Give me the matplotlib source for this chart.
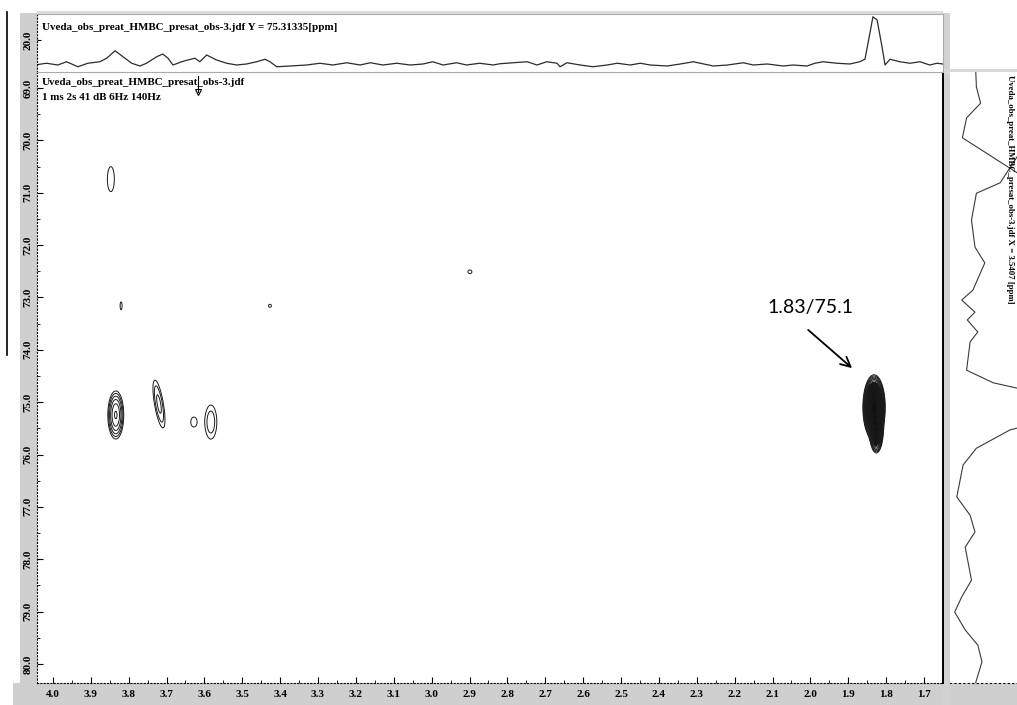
import numpy as np
import matplotlib.pyplot as plt
from matplotlib.patches import Rectangle
from matplotlib.lines import Line2D
from matplotlib.ticker import MultipleLocator

# 1H slice through 75.31 ppm (top trace)
top_ppm = [4.048, 4.017, 3.987, 3.964, 3.934, 3.908, 3.876, 3.858, 3.836, 3.815,
           3.792, 3.770, 3.753, 3.726, 3.710, 3.696, 3.683, 3.660, 3.644, 3.625,
           3.612, 3.594, 3.568, 3.541, 3.515, 3.489, 3.462, 3.440, 3.427, 3.409,
           3.374, 3.330, 3.295, 3.261, 3.224, 3.189, 3.162, 3.129, 3.092, 3.057,
           3.023, 2.997, 2.970, 2.934, 2.908, 2.873, 2.838, 2.820, 2.785, 2.748,
           2.722, 2.696, 2.669, 2.661, 2.643, 2.608, 2.574, 2.537, 2.510, 2.476,
           2.449, 2.423, 2.378, 2.344, 2.309, 2.291, 2.256, 2.219, 2.177, 2.151,
           2.114, 2.072, 2.046, 2.009, 1.988, 1.967, 1.930, 1.896, 1.870, 1.856,
           1.843, 1.835, 1.824, 1.811, 1.803, 1.790, 1.764, 1.737, 1.711, 1.685,
           1.666, 1.650]
top_int = [0.0, 1.4, 0.0, 2.6, -1.4, 1.4, 2.6, 5.4, 11.4, 6.6,
           1.4, -0.8, 1.4, 6.6, 8.8, 5.4, 0.0, 2.6, 4.0, 5.4,
           2.6, 8.0, 4.0, 1.4, 0.0, 0.8, 2.6, 4.6, 2.6, -1.4,
           -0.8, 0.0, 1.4, 0.0, 1.8, 0.0, 1.8, 0.0, 1.4, 0.0,
           0.8, 2.6, 0.0, 1.8, 0.0, 1.4, 0.0, 1.0, 1.8, 2.6,
           0.0, 2.6, 1.4, -1.4, 1.8, 0.0, -1.4, 0.0, 1.4, 0.0,
           1.4, 0.0, -0.8, 0.8, 2.6, 1.4, -0.8, 0.0, 1.8, 0.0,
           0.8, -0.8, 0.0, -0.8, 1.4, 2.6, 1.4, 0.8, 2.6, 4.6,
           25.4, 38.6, 36.0, 14.6, 0.0, 4.6, 2.6, 1.4, 2.6, 0.0,
           1.4, 0.8]

# 13C slice through 3.54 ppm (right trace), clipped peaks run off the panel
side_ppm = [68.65, 68.98, 69.29, 69.57, 69.95, 71.14, 69.06, 70.81, 71.01, 71.52,
            72.04, 72.34, 72.86, 73.05, 73.28, 73.43, 73.66, 73.85, 74.39, 74.63,
            75.09, 75.53, 75.88, 76.20, 76.81, 77.16, 77.48, 77.77, 78.40, 78.72,
            79.01, 79.35, 79.64, 79.96, 80.40]
side_int = [41, 42, 48, 28, 22, 161, 161, 76, 42, 35,
            40, 54, 37, 21, 40, 29, 44, 33, 28, 66,
            219, 90, 42, 23, 14, 33, 40, 26, 35, 21,
            11, 26, 44, 50, 40]

# HMBC cross peaks (1H ppm, 13C ppm, widths, height, tilt)
peak_x = [3.834, 3.720, 3.628, 3.583, 3.847, 3.820, 3.427, 2.899, 1.832, 1.826]
peak_y = [75.245, 75.035, 75.38, 75.38, 70.74, 73.16, 73.16, 72.51, 75.10, 75.50]
peak_sx = [0.0103, 0.0086, 0.011, 0.0134, 0.0127, 0.006, 0.009, 0.012, 0.0085, 0.0061]
peak_sy = [0.225, 0.33, 0.13, 0.276, 0.33, 0.175, 0.066, 0.08, 0.18, 0.155]
peak_amp = [8.0, 2.6, 1.3, 2.0, 1.3, 1.1, 1.1, 1.1, 400.0, 100.0]
peak_tilt = [0.0, -0.023, 0.0, 0.0, 0.0, 0.0, 0.0, 0.0, 0.0, 0.0]

x_ticks = [4.0, 3.9, 3.8, 3.7, 3.6, 3.5, 3.4, 3.3, 3.2, 3.1, 3.0, 2.9,
           2.8, 2.7, 2.6, 2.5, 2.4, 2.3, 2.2, 2.1, 2.0, 1.9, 1.8, 1.7]
y_ticks = [69.0, 70.0, 71.0, 72.0, 73.0, 74.0, 75.0, 76.0, 77.0, 78.0, 79.0, 80.0]

W, H = 1017, 705
serif = dict(family='Liberation Serif', weight='bold')


def fx(px):
    return px / W


def fy(py):
    return 1 - py / H


fig = plt.figure(figsize=(W / 100, H / 100), dpi=100)

# scanner-grey bands round the panels
for x0, y0, x1, y1, c in [(20, 13, 37, 683, '#cfcfcf'), (13, 683, 1017, 705, '#cfcfcf'),
                          (943, 13, 950, 705, '#d2d2d2'), (37, 69, 1017, 74, '#d9d9d9'),
                          (37, 11, 943, 14, '#dddddd')]:
    fig.add_artist(Rectangle((fx(x0), fy(y1)), fx(x1) - fx(x0), fy(y0) - fy(y1),
                             transform=fig.transFigure, color=c, lw=0, zorder=-1))
fig.add_artist(Line2D([fx(7), fx(7)], [fy(12), fy(355)], color='black', lw=1.2))

ax = fig.add_axes([fx(37), fy(683), fx(943) - fx(37), fy(72) - fy(683)])
ax_top = fig.add_axes([fx(37), fy(72), fx(943) - fx(37), fy(14) - fy(72)])
ax_side = fig.add_axes([fx(950), fy(683), fx(1017) - fx(950), fy(72) - fy(683)])

# contour map
gx = np.linspace(4.042, 1.650, 1600)
gy = np.linspace(68.69, 80.37, 1200)
X, Y = np.meshgrid(gx, gy)
Z = np.zeros_like(X)
for x0, y0, sx, sy, a, t in zip(peak_x, peak_y, peak_sx, peak_sy, peak_amp, peak_tilt):
    u = (X - x0 - t * (Y - y0)) / sx
    v = (Y - y0) / sy
    Z += a * np.exp(-(u ** 2 + v ** 2) / 2)
levels = 1.5 ** np.arange(16)
ax.contour(X, Y, Z, levels=levels, colors='#1a1a1a', linewidths=0.7)
ax.contourf(X, Y, Z, levels=[12, 1e6], colors='#111111')

ax.set_xlim(4.042, 1.650)
ax.set_ylim(80.364, 68.694)
ax.set_xticks(x_ticks)
ax.set_xticklabels([f'{t:.1f}' for t in x_ticks])
ax.set_yticks(y_ticks)
ax.set_yticklabels([f'{t:.1f}' for t in y_ticks])
ax.xaxis.set_minor_locator(MultipleLocator(0.05))
ax.yaxis.set_minor_locator(MultipleLocator(0.5))
ax.tick_params(axis='x', which='major', direction='in', length=4, pad=5, labelsize=8)
ax.tick_params(axis='y', which='major', direction='in', length=4, pad=3, labelsize=8,
               labelrotation=90)
ax.tick_params(which='minor', direction='in', length=2)
for lab in ax.get_xticklabels() + ax.get_yticklabels():
    lab.set_fontfamily('Liberation Serif')
    lab.set_fontweight('bold')
for lab in ax.get_yticklabels():
    lab.set_va('center')
ax.spines['left'].set_linestyle((0, (1, 2)))
ax.spines['bottom'].set_linestyle((0, (1, 2)))
ax.spines['top'].set_visible(False)
ax.spines['right'].set_linewidth(1.4)

ax.text(0.0055, 0.982, 'Uveda_obs_preat_HMBC_presat_obs-3.jdf', transform=ax.transAxes,
        fontsize=7.9, va='center', **serif)
ax.text(0.0055, 0.959, '1 ms 2s 41 dB 6Hz 140Hz', transform=ax.transAxes,
        fontsize=7.9, va='center', **serif)
ax.plot([3.617, 3.617], [68.77, 69.08], color='black', lw=0.8, clip_on=False)
ax.plot([3.617], [69.08], marker='v', ms=4, mfc='none', mec='black', mew=0.8, clip_on=False)

ax.text(2.001, 73.20, '1.83/75.1', fontsize=14, family='Lato', ha='center', va='center')
ax.annotate('', xy=(1.890, 74.35), xytext=(2.006, 73.62),
            arrowprops=dict(arrowstyle='->,head_length=0.7,head_width=0.35', lw=1.3,
                            color='black', shrinkA=0, shrinkB=0))

# top trace
ax_top.plot(top_ppm, top_int, color='#2b2b2b', lw=0.9)
ax_top.set_xlim(4.042, 1.650)
ax_top.set_ylim(-5.6, 40.8)
ax_top.set_xticks([])
ax_top.set_yticks([20.0])
ax_top.set_yticklabels(['20.0'])
ax_top.tick_params(axis='y', direction='in', length=3, pad=3, labelsize=8, labelrotation=90)
for lab in ax_top.get_yticklabels():
    lab.set_fontfamily('Liberation Serif')
    lab.set_fontweight('bold')
    lab.set_va('center')
for s in ['top', 'right', 'bottom']:
    ax_top.spines[s].set_color('#aaaaaa')
    ax_top.spines[s].set_linestyle((0, (1, 1)))
ax_top.spines['left'].set_linestyle((0, (1, 2)))
ax_top.text(0.0055, 0.76, 'Uveda_obs_preat_HMBC_presat_obs-3.jdf Y = 75.31335[ppm]',
            transform=ax_top.transAxes, fontsize=7.9, va='center', **serif)

# right trace
ax_side.plot(side_int, side_ppm, color='#3a3a3a', lw=0.8)
ax_side.set_xlim(4.3, 100)
ax_side.set_ylim(80.364, 68.694)
ax_side.set_xticks([])
ax_side.set_yticks([])
for s in ['top', 'right', 'left']:
    ax_side.spines[s].set_visible(False)
ax_side.spines['bottom'].set_linestyle((0, (1, 3)))
ax_side.text(0.9, 0.995, 'Uveda_obs_preat_HMBC_presat_obs-3.jdf X = 3.5407 [ppm]',
             transform=ax_side.transAxes, rotation=270, fontsize=6.3, ha='center', va='top',
             **serif)

fig.savefig('out.png', dpi=100)
